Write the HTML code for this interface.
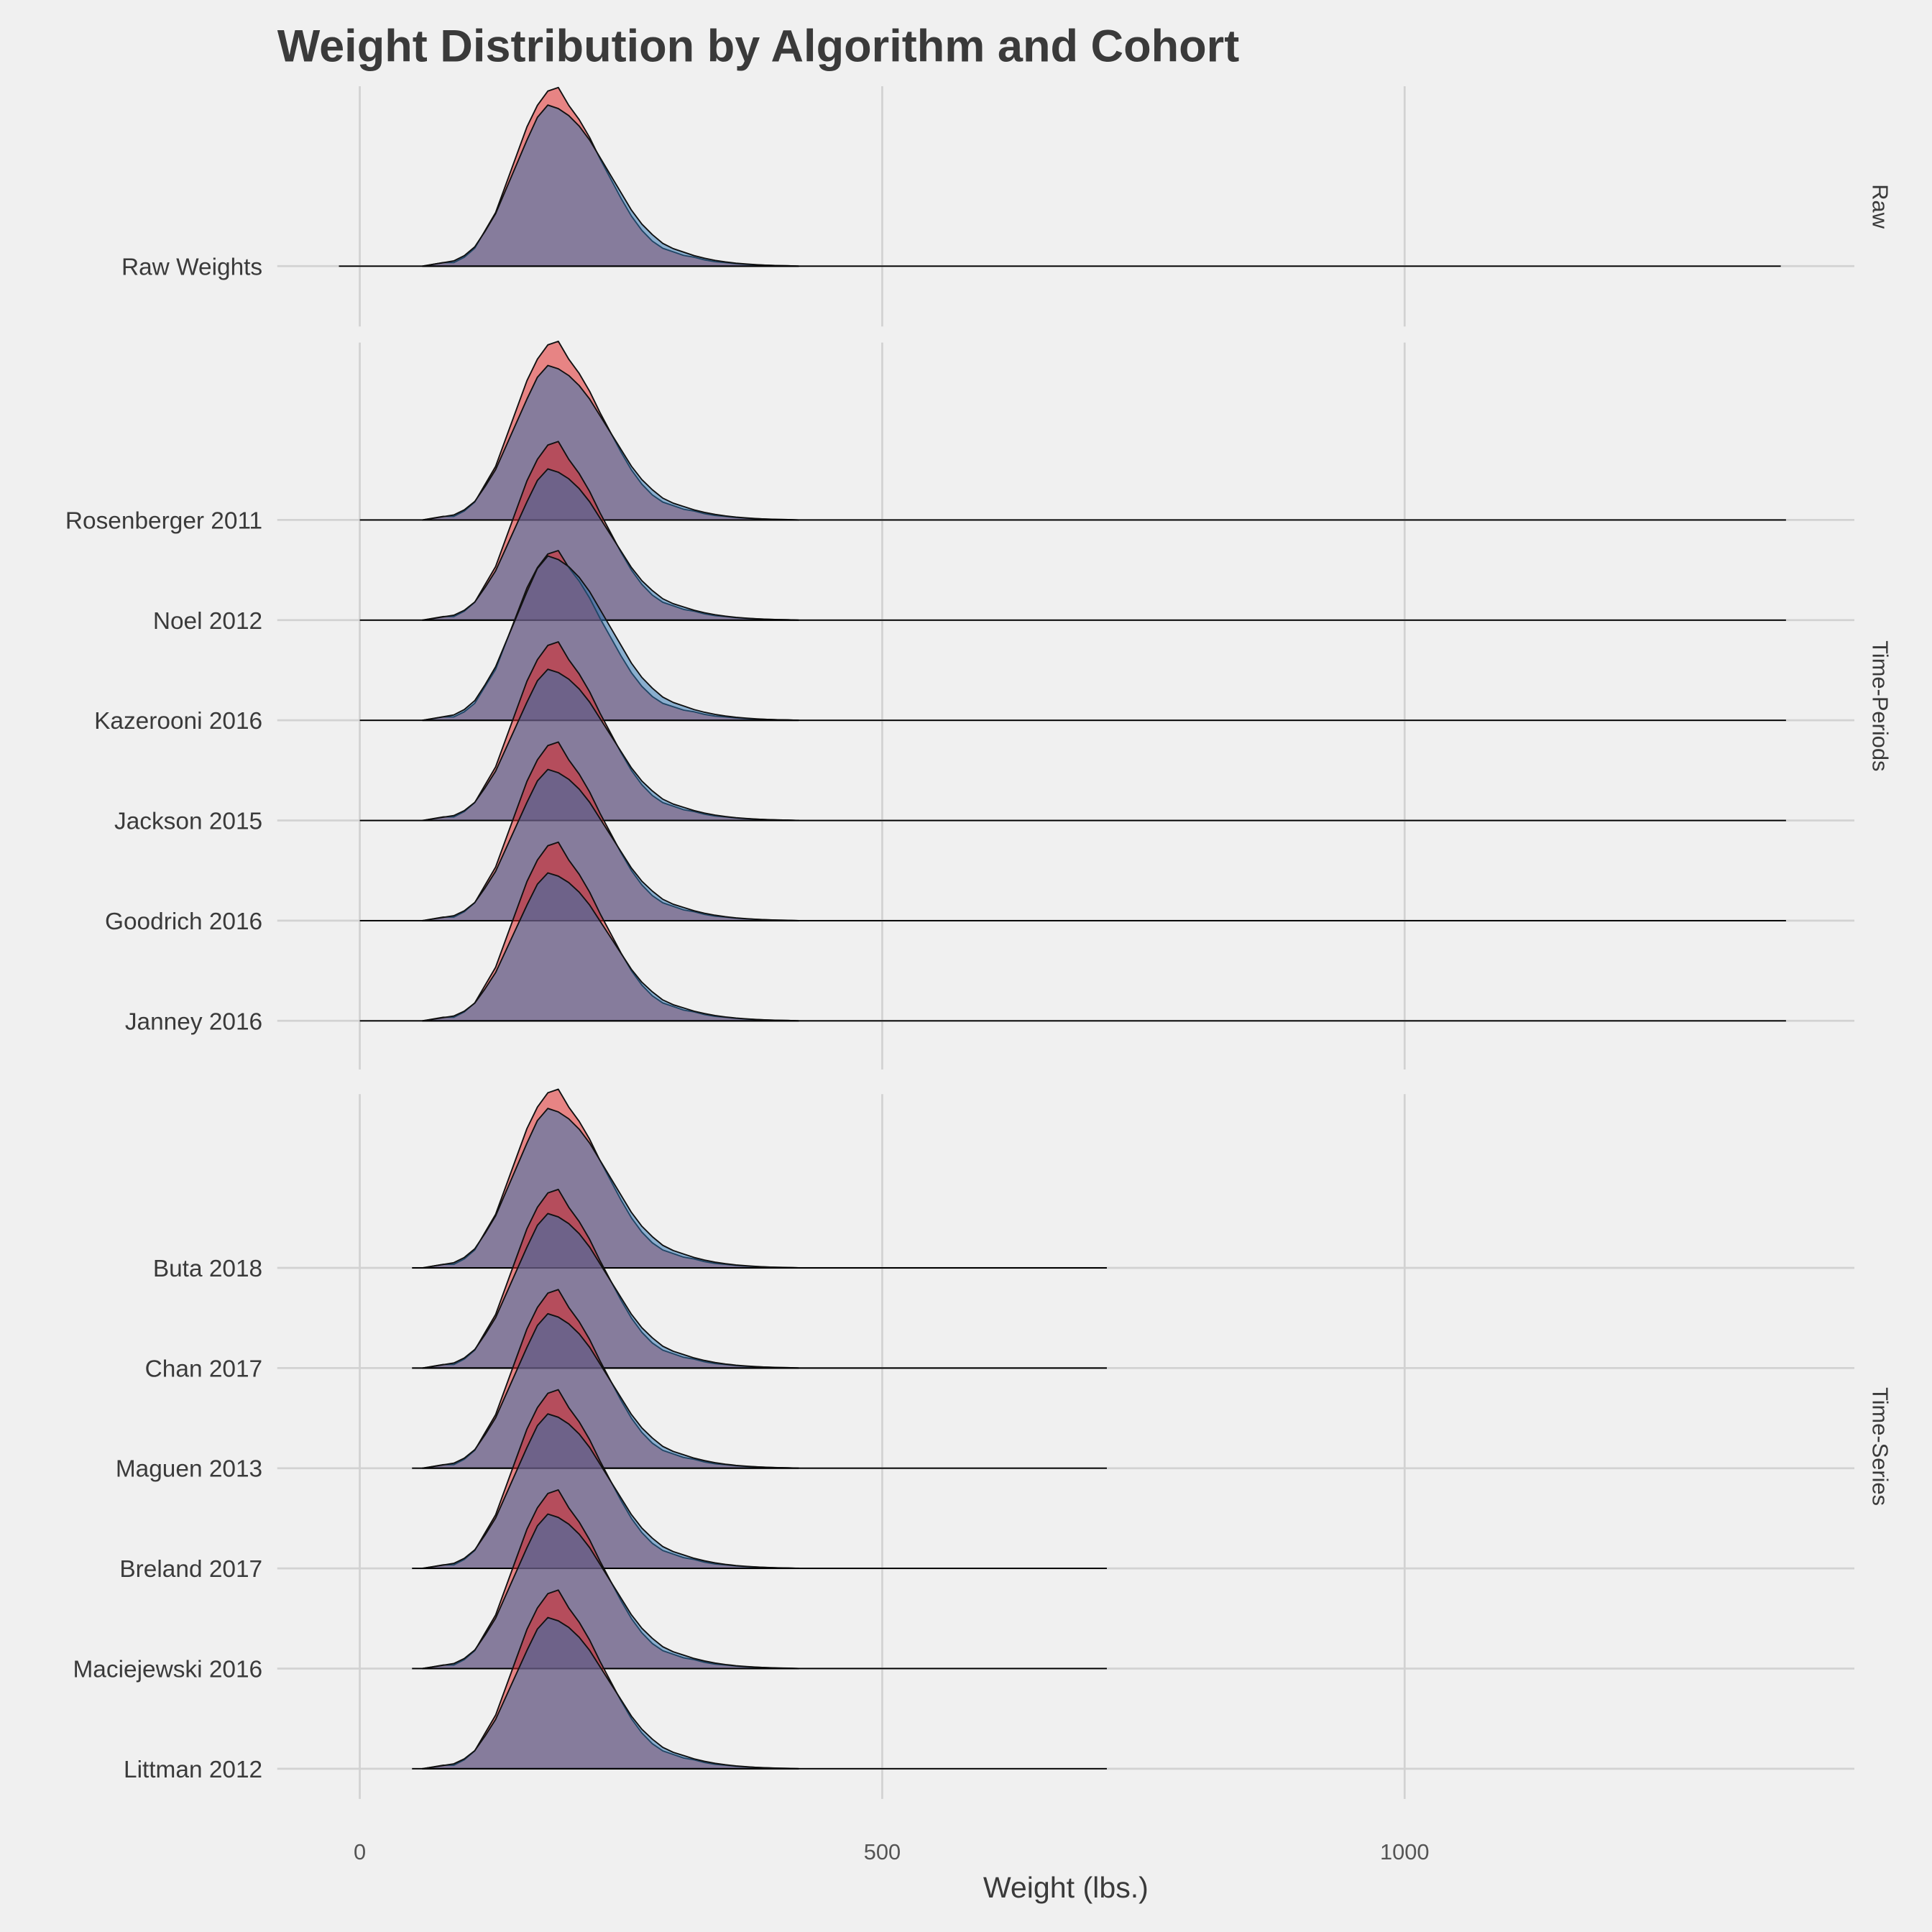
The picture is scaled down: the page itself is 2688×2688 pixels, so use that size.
<!DOCTYPE html>
<html><head><meta charset="utf-8">
<style>
html,body{margin:0;padding:0;background:#f0f0f0;}
svg{display:block;font-family:"Liberation Sans",Arial,sans-serif;}
</style></head>
<body>
<svg id="chart" width="2688" height="2688" viewBox="0 0 1568 1568" xmlns="http://www.w3.org/2000/svg">
<rect width="1568" height="1568" fill="#f0f0f0"/>
<text x="225" y="50" font-size="36.8" font-weight="bold" fill="#3a3a3a">Weight Distribution by Algorithm and Cohort</text>
<g id="grid"></g>
<g id="ridges"></g>
<g id="labels"></g>
<text x="865" y="1540" font-size="24" fill="#3a3a3a" text-anchor="middle">Weight (lbs.)</text>
</svg>
<script>
const weights=[60,70,80,90,100,110,120,130,140,150,160,170,180,190,200,210,220,230,240,250,260,270,280,290,300,310,320,330,340,350,360,370,380,390,400,410,420];
const redDensity=[0,0.01,0.02,0.02,0.05,0.1,0.2,0.3,0.46,0.62,0.78,0.9,0.98,1.0,0.9,0.82,0.72,0.6,0.49,0.38,0.28,0.2,0.14,0.1,0.08,0.06,0.05,0.035,0.025,0.02,0.014,0.01,0.007,0.005,0.003,0.002,0];
const blueDensity=[0,0.01,0.02,0.03,0.06,0.11,0.2,0.3,0.44,0.58,0.72,0.85,0.92,0.9,0.86,0.8,0.72,0.62,0.52,0.42,0.32,0.24,0.18,0.13,0.1,0.08,0.06,0.045,0.033,0.024,0.017,0.012,0.008,0.005,0.003,0.002,0];
const cohorts=["Raw Weights","Rosenberger 2011","Noel 2012","Kazerooni 2016","Jackson 2015","Goodrich 2016","Janney 2016","Buta 2018","Chan 2017","Maguen 2013","Breland 2017","Maciejewski 2016","Littman 2012"];
const cohortPanel=[0,1,1,1,1,1,1,2,2,2,2,2,2];
const redPeak=[1.0,1.0,1.0,0.95,1.0,1.0,1.0,1.0,1.0,1.0,1.0,1.0,1.0];
const bluePeak=[0.98,0.94,0.92,1.0,0.92,0.92,0.9,0.97,0.94,0.94,0.94,0.94,0.92];
const rangeMin=[-20,0,0,0,0,0,0,50,50,50,50,50,50];
const rangeMax=[1360,1365,1365,1365,1365,1365,1365,715,715,715,715,715,715];
const panelNames=["Raw","Time-Periods","Time-Series"];
const xTicks=[0,500,1000];

const NS="http://www.w3.org/2000/svg";
const x=v=>292+v*0.848;
const panelTop=[70,278,888],panelBot=[265,868,1460];
const firstBase=[216,422,1029],rowStep=81.3,peakH=145;
function baseY(i){const p=cohortPanel[i];const first=cohortPanel.indexOf(p);return firstBase[p]+(i-first)*rowStep;}
function mk(tag,attrs,parent){const e=document.createElementNS(NS,tag);for(const k in attrs)e.setAttribute(k,attrs[k]);parent.appendChild(e);return e;}
const grid=document.getElementById('grid'),ridges=document.getElementById('ridges'),labels=document.getElementById('labels');
for(let p=0;p<3;p++){
  xTicks.forEach(t=>{const l=mk('line',{x1:x(t),x2:x(t),y1:panelTop[p],y2:panelBot[p],stroke:'#d2d2d2','stroke-width':1.6},grid);
    
    });
  const s=mk('text',{x:1520,y:(panelTop[p]+panelBot[p])/2,'font-size':18,fill:'#3a3a3a','text-anchor':'middle',transform:`rotate(90 1520 ${(panelTop[p]+panelBot[p])/2})`},labels);
  s.textContent=panelNames[p];
  
  
}
cohorts.forEach((c,i)=>{const y=baseY(i);
  const l=mk('line',{x1:225,x2:1505,y1:y,y2:y,stroke:'#d2d2d2','stroke-width':1.6},grid);
  
  
  const t=mk('text',{x:213,y:y+7,'font-size':19.5,fill:'#3a3a3a','text-anchor':'end'},labels);
  t.textContent=c;
  
  
});
xTicks.forEach(v=>{const t=mk('text',{x:x(v),y:1509,'font-size':18,fill:'#555','text-anchor':'middle'},labels);
  t.textContent=v;
  
  });
function ridgePath(i,dens,peak){const y=baseY(i);let d=`M${x(weights[0])},${y}`;
  weights.forEach((w,k)=>{d+=` L${x(w)},${y-dens[k]*peak*peakH}`;});
  d+=` L${x(weights[weights.length-1])},${y} Z`;return d;}
cohorts.forEach((c,i)=>{const y=baseY(i);
  const g=mk('g',{},ridges);
  
  
  const r=mk('path',{d:ridgePath(i,redDensity,redPeak[i]),fill:'rgb(223,36,36)','fill-opacity':0.53,stroke:'#111','stroke-width':1.1,'stroke-linejoin':'round'},g);
  
  
  const b=mk('path',{d:ridgePath(i,blueDensity,bluePeak[i]),fill:'rgb(48,118,178)','fill-opacity':0.53,stroke:'#111','stroke-width':1.1,'stroke-linejoin':'round'},g);
  
  
  const bl=mk('line',{x1:x(rangeMin[i]),x2:x(rangeMax[i]),y1:y,y2:y,stroke:'#000','stroke-width':1.1},g);
  
  
});
</script>
</body></html>
